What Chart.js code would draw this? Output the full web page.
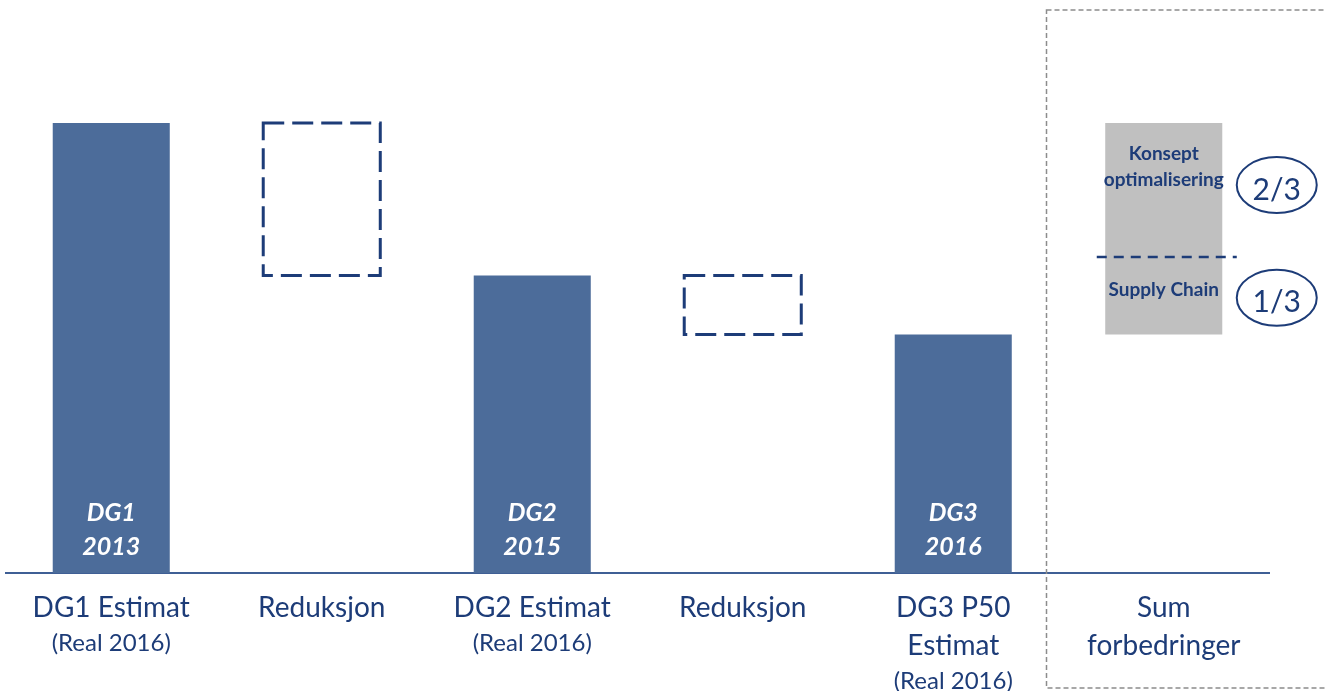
<!DOCTYPE html>
<html>
<head>
<meta charset="utf-8">
<script src="https://cdn.jsdelivr.net/npm/chart.js@4.4.0/dist/chart.umd.min.js"></script>
<style>
  html, body { margin: 0; padding: 0; background: #fff; }
  #boks { width: 1325px; height: 691px; position: relative; }
</style>
</head>
<body>
<div id="boks"><canvas id="graf"></canvas></div>
<script>
// kategorier (hovedtekst + undertekst)
const kategorier = ['DG1 Estimat', 'Reduksjon', 'DG2 Estimat', 'Reduksjon', 'DG3 P50', 'Sum'];
const kategoriLinje2 = ['', '', '', '', 'Estimat', 'forbedringer'];
const underTekst = ['(Real 2016)', '', '(Real 2016)', '', '(Real 2016)', ''];

// verdier (DG1 = 100)
const estimat = [100, null, 66.1, null, 53.0, null];
const reduksjon = [null, [66.1, 100], null, [53.0, 66.1], null, null];
const supplyChain = [null, null, null, null, null, [53.0, 70.2]];
const konsept = [null, null, null, null, null, [70.2, 100]];

// tekst i søylene
const sTekst1 = ['DG1', '', 'DG2', '', 'DG3', ''];
const sTekst2 = ['2013', '', '2015', '', '2016', ''];

const BLA = '#1d3c78';
const FONT = 'Lato, "Open Sans", sans-serif';

const tegnPlugin = {
  id: 'tegn',
  afterDatasetsDraw(chart) {
    const ctx = chart.ctx;
    const xs = chart.scales.x, ys = chart.scales.y;
    const area = chart.chartArea;

    // stiplede reduksjonsbokser
    chart.getDatasetMeta(1).data.forEach((bar, i) => {
      if (reduksjon[i] == null) return;
      const p = bar.getProps(['x', 'y', 'base', 'width'], true);
      ctx.save();
      ctx.strokeStyle = BLA;
      ctx.lineWidth = 3;
      ctx.setLineDash([21, 8]);
      ctx.strokeRect(p.x - p.width / 2, p.y, p.width, p.base - p.y);
      ctx.restore();
    });

    // tekst inne i søylene
    ctx.save();
    ctx.fillStyle = '#ffffff';
    ctx.font = 'italic bold 25px ' + FONT;
    ctx.textAlign = 'center';
    ctx.textBaseline = 'middle';
    sTekst1.forEach((t, i) => {
      if (!t) return;
      const cx = xs.getPixelForValue(i);
      ctx.fillText(t, cx, area.bottom - 60);
      ctx.fillText(sTekst2[i], cx, area.bottom - 26);
    });
    ctx.restore();

    // kategoritekster
    ctx.save();
    ctx.fillStyle = BLA;
    ctx.textAlign = 'center';
    ctx.textBaseline = 'middle';
    kategorier.forEach((t, i) => {
      const cx = xs.getPixelForValue(i);
      ctx.font = '28px ' + FONT;
      ctx.fillText(t, cx, area.bottom + 35);
      let y = area.bottom + 70;
      if (kategoriLinje2[i]) {
        ctx.fillText(kategoriLinje2[i], cx, area.bottom + 73);
        y = area.bottom + 108;
      }
      if (underTekst[i]) {
        ctx.font = '24px ' + FONT;
        ctx.fillText(underTekst[i], cx, y);
      }
    });
    ctx.restore();

    // grå søyle: skillelinje, tekster og ellipser
    const i = 5;
    const cx = xs.getPixelForValue(i);
    const ySkille = ys.getPixelForValue(supplyChain[i][1]);
    const yTopp = ys.getPixelForValue(konsept[i][1]);
    const yBunn = ys.getPixelForValue(supplyChain[i][0]);
    ctx.save();
    ctx.strokeStyle = BLA;
    ctx.lineWidth = 2.5;
    ctx.setLineDash([10, 7]);
    ctx.beginPath();
    ctx.moveTo(cx - 67, ySkille);
    ctx.lineTo(cx + 73, ySkille);
    ctx.stroke();
    ctx.setLineDash([]);

    ctx.fillStyle = BLA;
    ctx.textAlign = 'center';
    ctx.textBaseline = 'middle';
    ctx.font = 'bold 19px ' + FONT;
    const yMidK = (yTopp + ySkille) / 2;
    const yMidS = (ySkille + yBunn) / 2;
    ctx.fillText('Konsept', cx, yMidK - 36);
    ctx.fillText('optimalisering', cx, yMidK - 10);
    ctx.fillText('Supply Chain', cx, yMidS - 6);

    ctx.lineWidth = 2;
    [[yMidK - 5, '2/3'], [yMidS + 2, '1/3']].forEach(([ey, t]) => {
      ctx.beginPath();
      ctx.ellipse(cx + 113, ey, 40, 28, 0, 0, Math.PI * 2);
      ctx.stroke();
      ctx.font = '30px ' + FONT;
      ctx.fillText(t, cx + 113, ey + 5);
    });

    // ytre stiplet ramme
    const venstre = (xs.getPixelForValue(4) + xs.getPixelForValue(5)) / 2 - 12;
    ctx.strokeStyle = '#8c8c8c';
    ctx.lineWidth = 1.5;
    ctx.setLineDash([5, 3]);
    ctx.strokeRect(venstre, 10, 400, 678);
    ctx.restore();
  }
};

new Chart(document.getElementById('graf'), {
  type: 'bar',
  data: {
    labels: kategorier,
    datasets: [
      { data: estimat, backgroundColor: '#4c6c9a', grouped: false },
      { data: reduksjon, backgroundColor: 'rgba(0,0,0,0)', grouped: false },
      { data: supplyChain, backgroundColor: '#c0c0c0', grouped: false },
      { data: konsept, backgroundColor: '#c0c0c0', grouped: false }
    ]
  },
  options: {
    responsive: true,
    maintainAspectRatio: false,
    animation: false,
    layout: { padding: { top: 33, bottom: 110, left: 6, right: 56 } },
    datasets: { bar: { categoryPercentage: 1, barPercentage: 0.556 } },
    plugins: { legend: { display: false }, tooltip: { enabled: false } },
    scales: {
      x: {
        grid: { display: false },
        ticks: { display: false },
        border: { display: true, color: '#3f5f95', width: 2 }
      },
      y: { display: false, min: 0, max: 120 }
    }
  },
  plugins: [tegnPlugin]
});
</script>
</body>
</html>
